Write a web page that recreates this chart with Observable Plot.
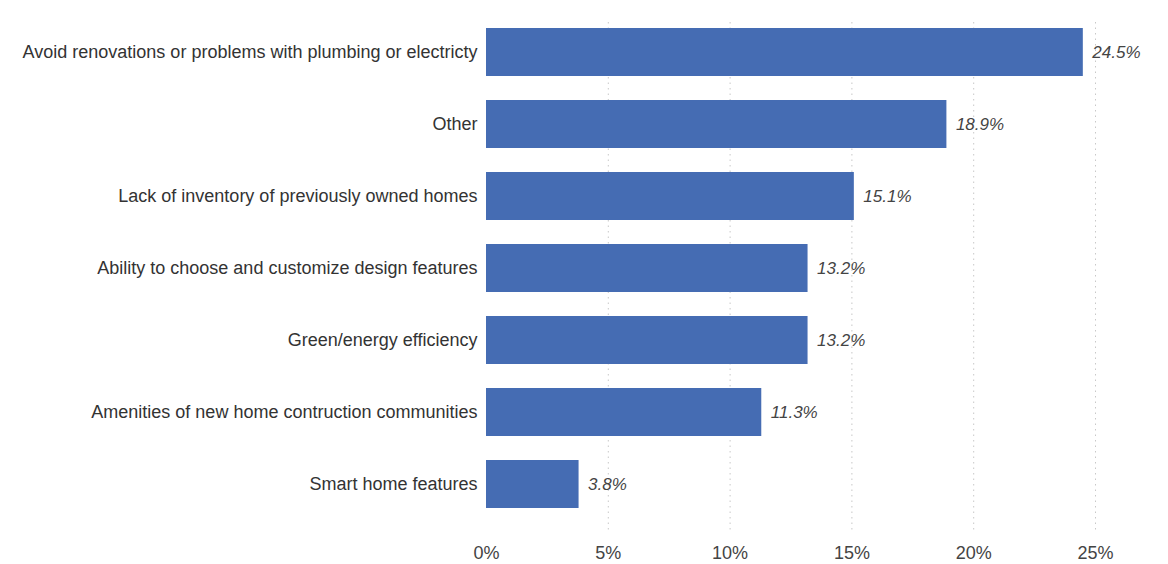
<!DOCTYPE html>
<html><head><meta charset="utf-8">
<script src="https://cdn.jsdelivr.net/npm/d3@7"></script>
<script src="https://cdn.jsdelivr.net/npm/@observablehq/plot@0.6"></script>
<style>body{margin:0;background:#fff;font-family:"Liberation Sans",Arial,sans-serif}</style>
</head><body><div id="chart"></div>
<script>
const categories = [
  "Avoid renovations or problems with plumbing or electricty",
  "Other",
  "Lack of inventory of previously owned homes",
  "Ability to choose and customize design features",
  "Green/energy efficiency",
  "Amenities of new home contruction communities",
  "Smart home features"
];
const values = [24.5, 18.9, 15.1, 13.2, 13.2, 11.3, 3.8];
const xTicks = [0, 5, 10, 15, 20, 25];
const data = categories.map((c, i) => ({category: c, value: values[i]}));

const chart = Plot.plot({
  width: 1168, height: 564,
  marginLeft: 486, marginRight: 73, marginTop: 16, marginBottom: 43,
  style: {fontFamily: "'Liberation Sans', Arial, sans-serif", fontSize: "18px", color: "#333", background: "#fff"},
  x: {domain: [0, 25], ticks: xTicks, tickFormat: d => d + "%", label: null},
  y: {domain: categories, label: null, paddingInner: 0.33, paddingOuter: 0.165},
  marks: [
    Plot.gridX(xTicks.filter(d => d > 0), {stroke: "#c8c8c8", strokeOpacity: 1, strokeDasharray: "1.5,4", insetTop: 6, insetBottom: -9}),
    Plot.barX(data, {x: "value", y: "category", fill: "#456cb3"}),
    Plot.text(data, {x: "value", y: "category", text: d => d.value.toFixed(1) + "%", dx: 9, textAnchor: "start", fontStyle: "italic", fontSize: 17, fill: "#444"}),
    Plot.axisY({tickSize: 0, tickPadding: 9, fontSize: 18, fill: "#333"}),
    Plot.axisX({ticks: xTicks, tickSize: 0, tickPadding: 25, tickFormat: d => d + "%", fontSize: 18, fill: "#444", label: null})
  ]
});
document.getElementById("chart").appendChild(chart);
</script></body></html>
